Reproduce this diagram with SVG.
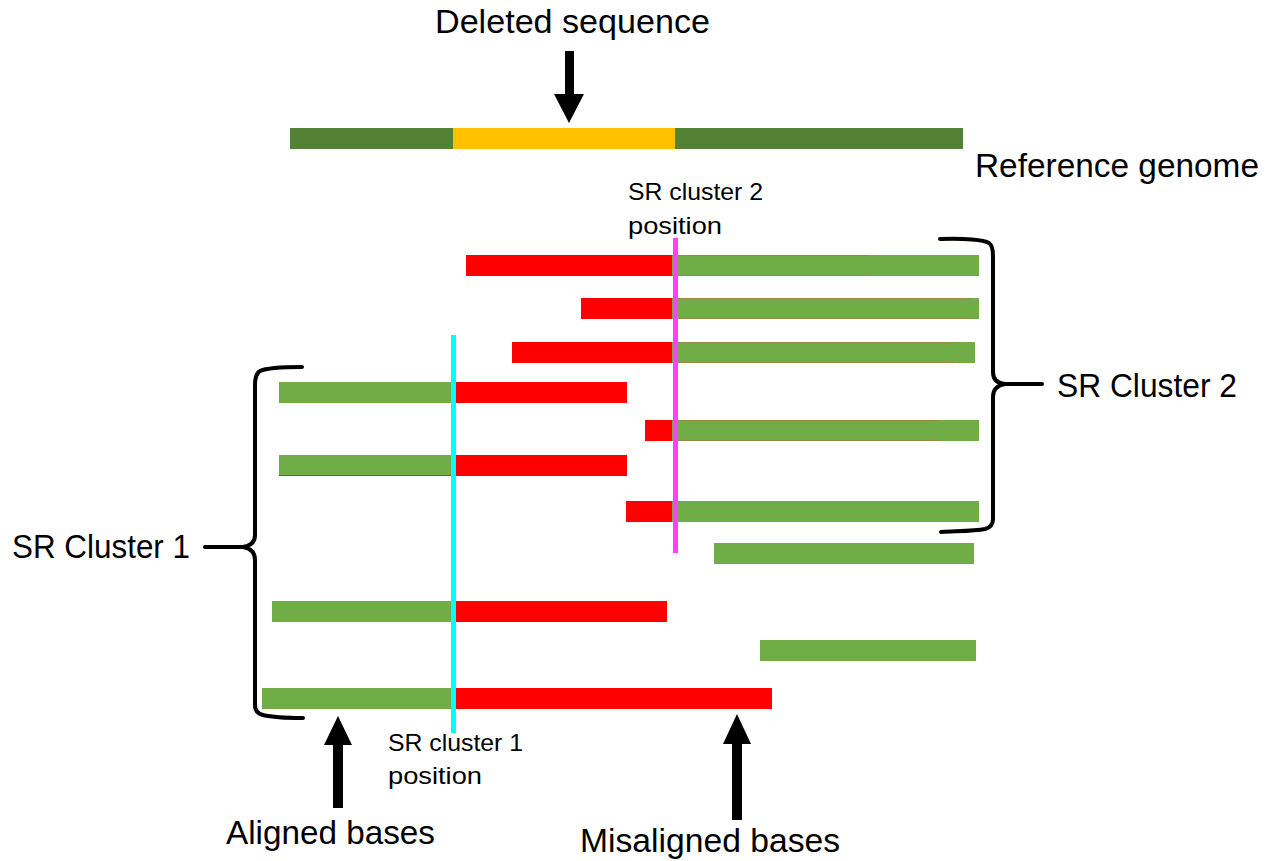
<svg xmlns="http://www.w3.org/2000/svg" width="1277" height="861" viewBox="0 0 1277 861">
  <defs>
    <style>
      .lbl { font-family: "Liberation Sans", Arial, sans-serif; fill: #000; }
      .big { font-size: 33px; }
      .small { font-size: 24px; }
      .ok { fill: #70AD47; }
      .bad { fill: #FF0000; }
      .seam { fill: none; stroke: #B0703A; stroke-opacity: 0.55; stroke-width: 1; }
      .brace { fill: none; stroke: #000; stroke-width: 4; stroke-linecap: round; stroke-linejoin: round; }
      .arrow { fill: #000; }
    </style>
  </defs>
  <rect width="1277" height="861" fill="#fff"/>

  <!-- reference genome with the deleted segment -->
  <g id="reference-genome">
    <rect x="290" y="128" width="673" height="21" fill="#548235"/>
    <rect x="453" y="128" width="222" height="21" fill="#FFC000"/>
    <text class="lbl big" x="975" y="177" textLength="284" lengthAdjust="spacingAndGlyphs">Reference genome</text>
  </g>

  <g id="deleted-label">
    <text class="lbl big" x="435" y="33" textLength="275" lengthAdjust="spacingAndGlyphs">Deleted sequence</text>
  </g>

  <!-- split reads, cluster 2 (aligned on the right of the breakpoint) -->
  <g id="read-1">
    <rect class="bad" x="466" y="255" width="206" height="21"/>
    <rect class="ok" x="672" y="255" width="307" height="21"/>
    <path class="seam" d="M672,255.5 H870 M672,275.5 H870"/>
  </g>
  <g id="read-2">
    <rect class="bad" x="581" y="298" width="91" height="21"/>
    <rect class="ok" x="672" y="298" width="307" height="21"/>
    <path class="seam" d="M672,298.5 H972 M672,318.5 H972"/>
  </g>
  <g id="read-3">
    <rect class="bad" x="512" y="342" width="160" height="21"/>
    <rect class="ok" x="672" y="342" width="303" height="21"/>
    <path class="seam" d="M672,342.5 H957 M672,362.5 H957"/>
  </g>
  <g id="read-5">
    <rect class="bad" x="645" y="420" width="27" height="21"/>
    <rect class="ok" x="672" y="420" width="307" height="21"/>
    <path class="seam" d="M672,420.5 H940 M672,440.5 H940"/>
  </g>
  <g id="read-7">
    <rect class="bad" x="626" y="501" width="46" height="21"/>
    <rect class="ok" x="672" y="501" width="307" height="21"/>
  </g>

  <!-- split reads, cluster 1 (aligned on the left of the breakpoint) -->
  <g id="read-4">
    <rect class="ok" x="279" y="382" width="173" height="21"/>
    <rect class="bad" x="452" y="382" width="175" height="21"/>
  </g>
  <g id="read-6">
    <rect class="ok" x="279" y="455" width="173" height="21"/>
    <rect class="bad" x="452" y="455" width="175" height="21"/>
    <path d="M279,475.5 H452" fill="none" stroke="#FF0000" stroke-opacity="0.7" stroke-width="1"/>
  </g>
  <g id="read-9">
    <rect class="ok" x="272" y="601" width="180" height="21"/>
    <rect class="bad" x="452" y="601" width="215" height="21"/>
  </g>
  <g id="read-11">
    <rect class="ok" x="262" y="688" width="190" height="21"/>
    <rect class="bad" x="452" y="688" width="320" height="21"/>
  </g>

  <!-- fully aligned reads -->
  <g id="read-8">
    <rect class="ok" x="714" y="543" width="260" height="21"/>
  </g>
  <g id="read-10">
    <rect class="ok" x="760" y="640" width="216" height="21"/>
  </g>

  <!-- cluster breakpoint positions -->
  <g id="cluster2-position">
    <rect x="673" y="238" width="5" height="315" fill="#FF40FF"/>
    <text class="lbl small" x="628" y="200" textLength="135" lengthAdjust="spacingAndGlyphs">SR cluster 2</text>
    <text class="lbl small" x="628" y="234" textLength="94" lengthAdjust="spacingAndGlyphs">position</text>
  </g>
  <g id="cluster1-position">
    <rect x="451" y="335" width="5" height="398" fill="#00FFFF"/>
    <text class="lbl small" x="388" y="751" textLength="135" lengthAdjust="spacingAndGlyphs">SR cluster 1</text>
    <text class="lbl small" x="388" y="784" textLength="94" lengthAdjust="spacingAndGlyphs">position</text>
  </g>

  <!-- cluster braces -->
  <g id="sr-cluster-2">
    <path class="brace" d="M940,239 C965,238 984,240 989,243 Q993,246 993,256 L993,372 Q993,383 1005,384 L1042,384 M1005,384 Q993,386 993,397 L993,519 Q993,527 985,529 C975,531 960,531 941,532"/>
    <text class="lbl big" x="1057" y="397" textLength="180" lengthAdjust="spacingAndGlyphs">SR Cluster 2</text>
  </g>
  <g id="sr-cluster-1">
    <path class="brace" d="M302,367 C282,367 266,368 260,371 Q255,374 255,385 L255,535 Q255,545 243,547 L205,547 M243,547 Q255,549 255,560 L255,705 Q255,713 263,715 C275,718 290,718 303,718"/>
    <text class="lbl big" x="12" y="558" textLength="178" lengthAdjust="spacingAndGlyphs">SR Cluster 1</text>
  </g>

  <!-- annotation arrows -->
  <g id="connectors">
    <path class="arrow" d="M565,51 L574,51 L574,94 L584,94 L569,123 L554,94 L565,94 Z"/>
    <path class="arrow" d="M333,808 L343,808 L343,745 L352,745 L338,716 L324,745 L333,745 Z"/>
    <path class="arrow" d="M732,820 L742,820 L742,744 L751,744 L737,714 L723,744 L732,744 Z"/>
  </g>

  <g id="aligned-label">
    <text class="lbl big" x="226" y="844" textLength="209" lengthAdjust="spacingAndGlyphs">Aligned bases</text>
  </g>
  <g id="misaligned-label">
    <text class="lbl big" x="580" y="852" textLength="260" lengthAdjust="spacingAndGlyphs">Misaligned bases</text>
  </g>
</svg>
